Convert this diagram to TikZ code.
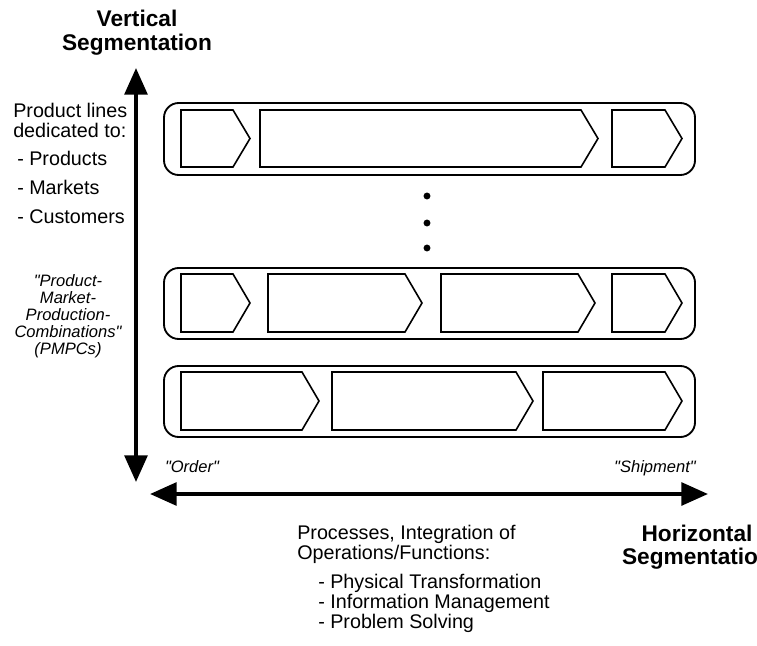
\documentclass[tikz,border=0pt]{standalone}
\usepackage{fontspec}
\setmainfont{Liberation Sans}
\usetikzlibrary{arrows.meta}

% one chevron: left x, tip x, top y, bottom y
\newcommand{\chevronpath}[4]{%
    \draw[chevron] (#1,#3) -- (#2-17,#3) -- (#2,{(#3+#4)/2}) -- (#2-17,#4) -- (#1,#4) -- cycle;}
\newcommand{\qq}{\textquotedbl}

\begin{document}
\begin{tikzpicture}[
    x=0.75pt, y=-0.75pt,
    rowbox/.style={line width=1.4pt, rounded corners=11pt},
    chevron/.style={line width=1.2pt, line join=miter},
    axisarrow/.style={line width=3pt, {Triangle[length=20pt,width=17pt]}-{Triangle[length=20pt,width=17pt]}},
    titlenode/.style={font=\bfseries\fontsize{17}{17.25}\selectfont, align=center, inner sep=0pt},
    textnode/.style={font=\fontsize{14.8}{14.5}\selectfont, align=left, inner sep=0pt},
    bulletnode/.style={font=\fontsize{14.8}{21.75}\selectfont, align=left, inner sep=0pt},
    quotenode/.style={font=\itshape\fontsize{12.4}{12.75}\selectfont, align=center, inner sep=0pt}
]
\useasboundingbox (0,0) rectangle (757,646);
\clip (0,0) rectangle (757,646);

% Axes
\coordinate (vtop) at (136,68);
\coordinate (vbot) at (136,482);
\coordinate (hleft) at (150,494);
\coordinate (hright) at (708,494);
\draw[axisarrow] (vbot) -- (vtop);
\draw[axisarrow] (hleft) -- (hright);

% Product line 1
\draw[rowbox] (164,103) rectangle (695,175);
\foreach \l/\r in {181/250, 260/598, 612/682} {
    \chevronpath{\l}{\r}{110}{167}
}

% Dots between the lines
\foreach \y in {196, 223, 248} {
    \fill (427,\y) circle[radius=2.6pt];
}

% Product line 2
\draw[rowbox] (164,268) rectangle (695,339);
\foreach \l/\r in {181/250, 268/422, 441/595, 612/682} {
    \chevronpath{\l}{\r}{274}{332}
}

% Product line 3
\draw[rowbox] (164,366) rectangle (695,437);
\foreach \l/\r in {181/319, 332/533, 543/682} {
    \chevronpath{\l}{\r}{372}{430}
}

% Axis titles (base = last line)
\node[titlenode, anchor=base] (vtitle) at (137,50) {Vertical\\Segmentation};
\node[titlenode, anchor=base] (htitle) at (697,564) {Horizontal\\Segmentation};

% Left side texts
\node[textnode, anchor=base west] (plines) at (13,137) {Product lines\\dedicated to:};
\node[bulletnode, anchor=base west] (pbullets) at (17,223) {- Products\\- Markets\\- Customers};
\node[quotenode, anchor=base] (pmpc) at (68,354) {\qq Product-\\Market-\\Production-\\Combinations\qq\\(PMPCs)};

% Start and end of the process
\node[quotenode, anchor=base] (order) at (192,472) {\qq Order\qq};
\node[quotenode, anchor=base] (shipment) at (655,472) {\qq Shipment\qq};

% Bottom texts
\node[textnode, anchor=base west] (procs) at (297,559) {Processes, Integration of\\Operations/Functions:};
\node[textnode, anchor=base west, font=\fontsize{14.8}{15}\selectfont] (funcs) at (318,628) {- Physical Transformation\\- Information Management\\- Problem Solving};

\end{tikzpicture}
\end{document}
